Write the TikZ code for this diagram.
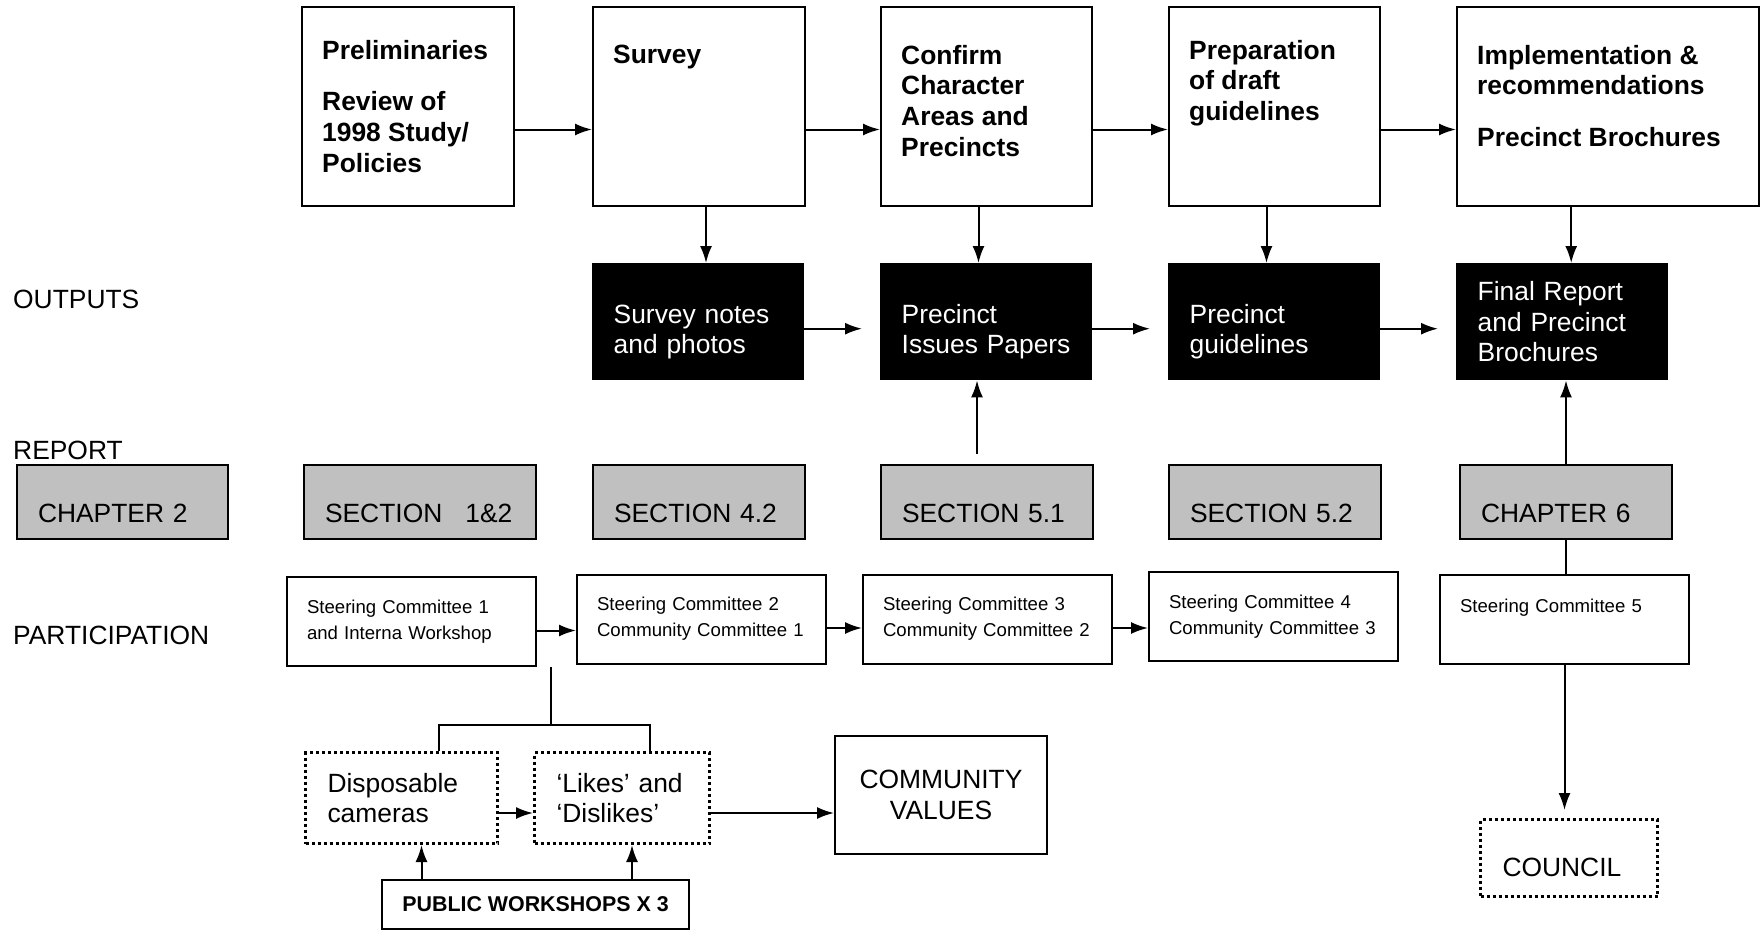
\documentclass[tikz,border=0pt]{standalone}
\usepackage{fontspec}
\setmainfont{Liberation Sans}
\usetikzlibrary{arrows.meta,calc}
\definecolor{silver}{HTML}{C0C0C0}
\newcommand{\stagefont}{\fontsize{26.4}{30.6}\selectfont}
\newcommand{\meetfont}{\fontsize{18.6}{26}\selectfont}
\newcommand{\pwfont}{\fontsize{21.4}{25}\selectfont}
\tikzstyle{line} = [draw, line width=2pt, -{Latex[length=17pt,width=12pt]}]
\tikzstyle{branch} = [draw, line width=2pt]
\tikzstyle{stage} = [draw, line width=2pt, anchor=north west, minimum height=199pt, inner sep=0pt]
\tikzstyle{stagetext} = [anchor=north west, align=left, inner sep=0pt, font=\bfseries\stagefont]
\tikzstyle{outbox} = [fill=black, text=white, anchor=north west, align=left, minimum height=117pt, inner xsep=21.5pt, text width=169pt, font=\stagefont]
\tikzstyle{report} = [draw, line width=2pt, fill=silver, anchor=north west, align=left, minimum height=74pt, inner xsep=21pt, inner ysep=0pt, text height=40pt, text depth=0pt, font=\stagefont]
\tikzstyle{meeting} = [draw, line width=2pt, anchor=north west, align=left, minimum height=89pt, inner xsep=20pt, text width=209pt, font=\meetfont]
\tikzstyle{dotbox} = [draw, line width=3pt, dash pattern=on 3pt off 3pt, anchor=north west, align=left, minimum height=91pt, inner xsep=22pt, font=\stagefont]
\tikzstyle{result} = [draw, line width=2pt, anchor=north west, align=center, minimum width=212pt, minimum height=118pt, font=\stagefont]
\tikzstyle{rowlabel} = [anchor=west, inner sep=0pt, font=\stagefont]

\begin{document}
\begin{tikzpicture}[x=1pt,y=-1pt]
\useasboundingbox (0,0) rectangle (1760,929);

%\draw[help lines,step=100] (0,0) grid (1760,929);

\node[rowlabel] (outlbl) at (13,299) {OUTPUTS};
\node[rowlabel] (replbl) at (13,450) {REPORT};
\node[rowlabel] (partlbl) at (13,635) {PARTICIPATION};

% stages
\node[stage, minimum width=212pt] (prelim) at (301,6) {};
\node[stage, minimum width=212pt] (survey) at (592,6) {};
\node[stage, minimum width=211pt] (confirm) at (880,6) {};
\node[stage, minimum width=211pt] (prep) at (1168,6) {};
\node[stage, minimum width=302pt] (impl) at (1456,6) {};

\node[stagetext] (prelimtxt) at ([xshift=21pt,yshift=-34pt]prelim.north west) {Preliminaries\\[21pt]Review of\\1998 Study/\\Policies};
\node[stagetext] (surveytxt) at ([xshift=21pt,yshift=-39pt]survey.north west) {Survey};
\node[stagetext] (confirmtxt) at ([xshift=21pt,yshift=-39pt]confirm.north west) {Confirm\\Character\\Areas and\\Precincts};
\node[stagetext] (preptxt) at ([xshift=21pt,yshift=-34pt]prep.north west) {Preparation\\of draft\\guidelines};
\node[stagetext] (impltxt) at ([xshift=21pt,yshift=-39pt]impl.north west) {Implementation \&\\recommendations\\[21pt]Precinct Brochures};

\draw[line] ([yshift=-23pt]prelim.east) -- ([yshift=-23pt]prelim.east -| survey.west);
\draw[line] ([yshift=-23pt]survey.east) -- ([yshift=-23pt]survey.east -| confirm.west);
\draw[line] ([yshift=-23pt]confirm.east) -- ([yshift=-23pt]confirm.east -| prep.west);
\draw[line] ([yshift=-23pt]prep.east) -- ([yshift=-23pt]prep.east -| impl.west);

% outputs
\node[outbox] (notes) at (592,263) {\rule{0pt}{39pt}Survey notes\\and photos};
\node[outbox] (issues) at (880,263) {\rule{0pt}{39pt}Precinct\\Issues Papers};
\node[outbox] (guide) at (1168,263) {\rule{0pt}{39pt}Precinct\\guidelines};
\node[outbox] (final) at (1456,263) {Final Report\\and Precinct\\Brochures};

\draw[line] ([xshift=7pt]survey.south) -- ([xshift=7pt]survey.south |- notes.north);
\draw[line] ([xshift=-8pt]confirm.south) -- ([xshift=-8pt]confirm.south |- issues.north);
\draw[line] ([xshift=-8pt]prep.south) -- ([xshift=-8pt]prep.south |- guide.north);
\draw[line] ([xshift=9pt]final.north |- impl.south) -- ([xshift=9pt]final.north);

\draw[line, shorten >=18pt] ([yshift=-7pt]notes.east) -- ([yshift=-7pt]notes.east -| issues.west);
\draw[line, shorten >=18pt] ([yshift=-7pt]issues.east) -- ([yshift=-7pt]issues.east -| guide.west);
\draw[line, shorten >=18pt] ([yshift=-7pt]guide.east) -- ([yshift=-7pt]guide.east -| final.west);

% report
\node[report, text width=169pt] (ch2) at (16,464) {CHAPTER 2};
\node[report, text width=190pt] (sec12) at (303,464) {SECTION\hspace{23pt}1\&2};
\node[report, text width=170pt] (sec42) at (592,464) {SECTION 4.2};
\node[report, text width=170pt] (sec51) at (880,464) {SECTION 5.1};
\node[report, text width=170pt] (sec52) at (1168,464) {SECTION 5.2};
\node[report, text width=170pt] (ch6) at (1459,464) {CHAPTER 6};

\coordinate (sec51up) at ([xshift=-10pt,yshift=10pt]sec51.north);
\draw[line] (sec51up) -- (sec51up |- issues.south);
\draw[line] (ch6.north) -- (ch6.north |- final.south);

% participation
\node[meeting] (st1) at (286,576) {Steering Committee 1\\and Interna Workshop};
\node[meeting] (st2) at (576,573.5) {Steering Committee 2\\Community Committee 1};
\node[meeting] (st3) at (862,573.5) {Steering Committee 3\\Community Committee 2};
\node[meeting] (st4) at (1148,571) {Steering Committee 4\\Community Committee 3};
\node[meeting] (st5) at (1439,573.5) {Steering Committee 5\\\mbox{}};

\draw[line] ([yshift=-9pt]st1.east) -- ([yshift=-9pt]st1.east -| st2.west);
\draw[line] ([yshift=-9pt]st2.east) -- ([yshift=-9pt]st2.east -| st3.west);
\draw[line] ([yshift=-9pt]st3.east) -- ([yshift=-9pt]st3.east -| st4.west);
\draw[branch] (ch6.south) -- (ch6.south |- st5.north);

% workshops
\node[dotbox, text width=148pt] (disp) at (304,751) {Disposable\\cameras};
\node[dotbox, text width=131pt] (likes) at (533,751) {‘Likes’ and\\‘Dislikes’};
\node[result] (values) at (834,735) {COMMUNITY\\VALUES};
\node[draw, line width=2pt, anchor=north west, minimum width=307pt, minimum height=49pt, font=\bfseries\pwfont] (pw) at (381,879) {PUBLIC WORKSHOPS X 3};
\node[dotbox, text width=133pt, minimum height=77pt, text height=37pt, text depth=0pt] (council) at (1479,818) {COUNCIL};

\coordinate (fork) at ([xshift=14pt]st1.south east);
\coordinate (bar) at ([yshift=26pt]disp.north -| fork);
\draw[branch] (fork) -- (bar);
\draw[branch] ([xshift=37pt]disp.north) |- (bar) -| ([xshift=28pt]likes.north);

\draw[line] ([yshift=-15pt]disp.east) -- ([yshift=-15pt]disp.east -| likes.west);
\draw[line] ([yshift=-15pt]likes.east) -- ([yshift=-15pt]likes.east -| values.west);
\draw[line] ([xshift=20pt]disp.south |- pw.north) -- ([xshift=20pt]disp.south);
\draw[line] ([xshift=10pt]likes.south |- pw.north) -- ([xshift=10pt]likes.south);
\draw[line, shorten >=8pt] (st5.south) -- (st5.south |- council.north);
\end{tikzpicture}
\end{document}
